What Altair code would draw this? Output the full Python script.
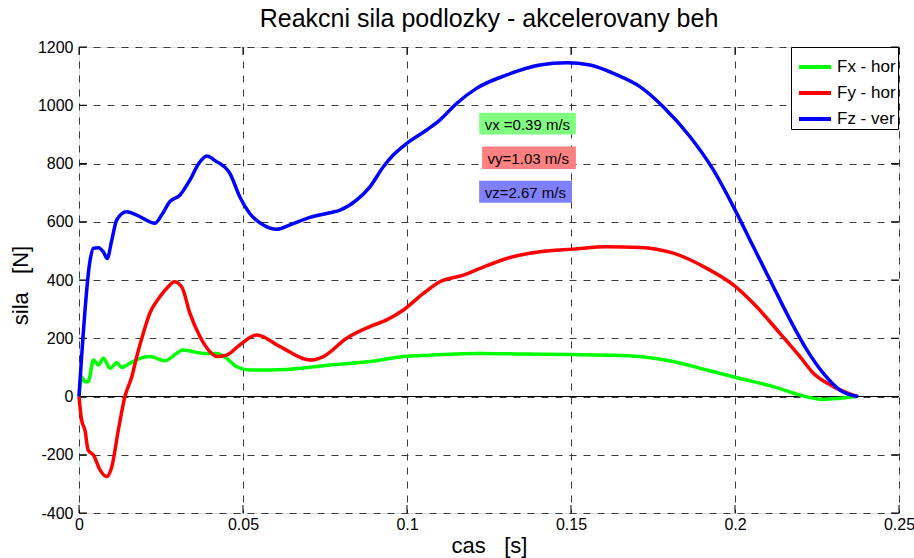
import altair as alt
import pandas as pd

FONT = "Liberation Sans, Arial, Helvetica, sans-serif"
NBSP = "\u00a0"

# Ground reaction force components: time [s] and force [N]
fx_t = [0, 0.0008, 0.0018, 0.0028, 0.0044, 0.0059, 0.0074, 0.0095, 0.0115, 0.013,
        0.0155, 0.0186, 0.0216, 0.0262, 0.0318, 0.0379, 0.042, 0.045, 0.0481, 0.0521,
        0.0633, 0.0765, 0.0887, 0.0989, 0.107, 0.1223, 0.1352, 0.1505, 0.1609, 0.171,
        0.1812, 0.1914, 0.2015, 0.2117, 0.2198, 0.2269, 0.232, 0.2371]
fx_f = [0, 68, 51, 51, 125, 108, 131, 97, 116, 100,
        114, 131, 137, 123, 160, 148, 148, 131, 102, 91,
        93, 108, 120, 137, 142, 148, 146, 144, 142, 137,
        120, 91, 62, 34, 5, -10, -6, 0]

fy_t = [0, 0.0008, 0.0018, 0.0028, 0.0044, 0.0064, 0.0084, 0.0100, 0.012, 0.014,
        0.0161, 0.0176, 0.0196, 0.0216, 0.0247, 0.0272, 0.029, 0.0313, 0.0338, 0.0369,
        0.0399, 0.042, 0.045, 0.049, 0.0542, 0.0613, 0.0704, 0.0745, 0.0816, 0.0887,
        0.0938, 0.0989, 0.105, 0.110, 0.1172, 0.1223, 0.1304, 0.1405, 0.1507, 0.1609,
        0.171, 0.1812, 0.1914, 0.1995, 0.2066, 0.2137, 0.2198, 0.2239, 0.23, 0.2371]
fy_f = [0, -81, -115, -184, -201, -252, -275, -241, -115, 0,
        68, 137, 217, 286, 343, 377, 394, 377, 286, 205,
        154, 137, 142, 177, 211, 171, 125, 137, 200, 240,
        263, 297, 354, 394, 417, 440, 474, 497, 506, 514,
        512, 492, 440, 383, 308, 217, 137, 80, 34, 0]

fz_t = [0, 0.0034, 0.0044, 0.0059, 0.0074, 0.0086, 0.010, 0.0115, 0.0145, 0.0176,
        0.0232, 0.0252, 0.0277, 0.0308, 0.0338, 0.0365, 0.039, 0.0415, 0.046, 0.049,
        0.052, 0.0562, 0.0603, 0.0643, 0.0704, 0.0765, 0.0796, 0.0847, 0.0887, 0.0928,
        0.0958, 0.0999, 0.106, 0.110, 0.1152, 0.1212, 0.1304, 0.1405, 0.1487, 0.1558,
        0.164, 0.171, 0.1781, 0.1863, 0.1934, 0.1995, 0.2056, 0.2117, 0.2168, 0.2219,
        0.2269, 0.232, 0.2376]
fz_f = [0, 469, 509, 511, 497, 474, 537, 606, 634, 623,
        595, 623, 669, 692, 743, 800, 826, 810, 766, 686,
        629, 589, 574, 589, 615, 631, 640, 675, 720, 789,
        829, 869, 915, 949, 1007, 1058, 1104, 1138, 1146, 1138,
        1104, 1064, 995, 892, 778, 652, 514, 377, 263, 160,
        80, 22, 0]

series_names = ["Fx - hor", "Fy - hor", "Fz - ver"]
series_colors = ["#00ff00", "#ff0000", "#0000ff"]

# Velocity annotations (text and box extents in data units)
ann_text = ["vx =0.39 m/s", "vy=1.03 m/s", "vz=2.67 m/s"]
ann_t0 = [0.1220, 0.1229, 0.1220]
ann_t1 = [0.1515, 0.1515, 0.1503]
ann_f0 = [900, 781, 665]
ann_f1 = [974, 858, 741]
ann_fill = ["#80ff80", "#ff8080", "#8080ff"]

x_ticks = [0, 0.05, 0.1, 0.15, 0.2, 0.25]
y_ticks = [-400, -200, 0, 200, 400, 600, 800, 1000, 1200]

rows = []
for name, ts, fs in zip(series_names, [fx_t, fy_t, fz_t], [fx_f, fy_f, fz_f]):
    for i, (t, f) in enumerate(zip(ts, fs)):
        rows.append({"cas": t, "sila": f, "slozka": name, "i": i})
df = pd.DataFrame(rows)

ann = pd.DataFrame({
    "text": [s.replace(" ", NBSP) for s in ann_text], "t0": ann_t0, "t1": ann_t1,
    "f0": ann_f0, "f1": ann_f1, "fill": ann_fill,
    "fm": [(a + b) / 2 for a, b in zip(ann_f0, ann_f1)],
})
xt = pd.DataFrame({"v": x_ticks})
yt = pd.DataFrame({"v": y_ticks})

W, H = 820, 466
xs = alt.Scale(domain=[0, 0.25], nice=False, zero=False)
ys = alt.Scale(domain=[-400, 1200], nice=False, zero=False)

x_axis = alt.Axis(values=x_ticks, labelExpr="'' + datum.value",
                  title="cas" + NBSP * 3 + "[s]",
                  titleFontSize=22, titleFontWeight="normal", titleFont=FONT,
                  titleX=410, titleY=32, titleBaseline="middle",
                  labelFontSize=16, labelFont=FONT, labelPadding=3, tickSize=0,
                  domain=False, grid=True, gridDash=[7, 7], gridColor="#3a3a3a",
                  labelColor="#000", titleColor="#000", labelFlush=False)
y_axis = alt.Axis(values=y_ticks, labelExpr="'' + datum.value",
                  title="sila" + NBSP * 3 + "[N]",
                  titleFontSize=22, titleFontWeight="normal", titleFont=FONT,
                  titleX=-59, titleY=238, titleBaseline="middle", titleAngle=270,
                  labelFontSize=16, labelFont=FONT, labelPadding=6, tickSize=0,
                  domain=False, grid=True, gridDash=[7, 7], gridColor="#3a3a3a",
                  labelColor="#000", titleColor="#000", labelFlush=False)

lines = alt.Chart(df).mark_line(strokeWidth=3.5, interpolate="monotone").encode(
    x=alt.X("cas:Q", scale=xs, axis=x_axis),
    y=alt.Y("sila:Q", scale=ys, axis=y_axis),
    order="i:Q",
    color=alt.Color("slozka:N",
                    scale=alt.Scale(domain=series_names, range=series_colors),
                    legend=alt.Legend(title=None, orient="none", legendX=712, legendY=0,
                                      fillColor="white", strokeColor="black", padding=2,
                                      symbolType="stroke", symbolStrokeWidth=4,
                                      symbolSize=1024, symbolOffset=4, labelOffset=4,
                                      rowPadding=0, labelFontSize=17, labelFont=FONT,
                                      labelColor="#000")),
)

zero_line = alt.Chart(pd.DataFrame({"z": [0]})).mark_rule(color="black", strokeWidth=1).encode(
    y=alt.Y("z:Q", scale=ys)
)

# inward tick marks on all four sides of the box
tick_len = 8
ticks_bottom = alt.Chart(xt).mark_rule(color="black").encode(
    x=alt.X("v:Q", scale=xs), y=alt.value(H), y2=alt.value(H - tick_len))
ticks_top = alt.Chart(xt).mark_rule(color="black").encode(
    x=alt.X("v:Q", scale=xs), y=alt.value(0), y2=alt.value(tick_len))
ticks_left = alt.Chart(yt).mark_rule(color="black").encode(
    y=alt.Y("v:Q", scale=ys), x=alt.value(0), x2=alt.value(tick_len))
ticks_right = alt.Chart(yt).mark_rule(color="black").encode(
    y=alt.Y("v:Q", scale=ys), x=alt.value(W), x2=alt.value(W - tick_len))

boxes = alt.Chart(ann).mark_rect().encode(
    x=alt.X("t0:Q", scale=xs), x2="t1:Q",
    y=alt.Y("f0:Q", scale=ys), y2="f1:Q",
    fill=alt.Fill("fill:N", scale=None),
)
labels = alt.Chart(ann).mark_text(align="left", baseline="middle", dx=5.5, dy=1,
                                  fontSize=15, font=FONT, color="#000").encode(
    x=alt.X("t0:Q", scale=xs), y=alt.Y("fm:Q", scale=ys), text="text:N")

chart = alt.layer(
    zero_line, ticks_bottom, ticks_top, ticks_left, ticks_right,
    lines, boxes, labels,
).properties(
    width=W, height=H,
    title=alt.TitleParams("Reakcni sila podlozky - akcelerovany beh", fontSize=25,
                          font=FONT, fontWeight="normal", anchor="middle",
                          baseline="alphabetic", offset=15, dy=28, color="#000"),
    autosize=alt.AutoSizeParams(type="none"),
    padding={"left": 79, "top": 47, "right": 15, "bottom": 45},
).configure_view(
    stroke="black", strokeWidth=1
).configure(background="white")

chart.save("out.html", embed_options={"renderer": "svg", "actions": False})
